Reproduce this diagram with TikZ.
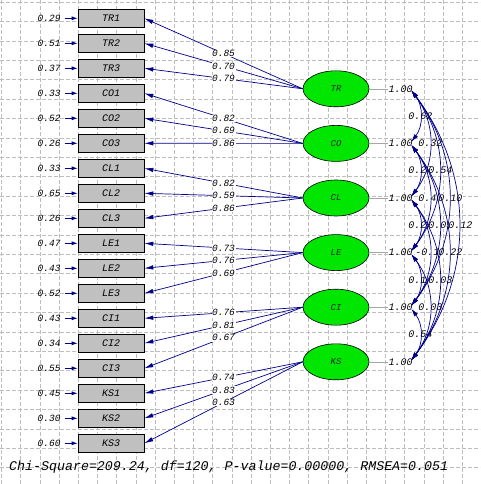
\documentclass[tikz,border=0pt]{standalone}
\usepackage{fontspec}
\setmonofont{Liberation Mono}
\usetikzlibrary{arrows.meta,shapes.geometric,calc}
\definecolor{navy}{RGB}{0,0,140}
\definecolor{lgreen}{RGB}{0,230,0}
\definecolor{boxgray}{RGB}{192,192,192}
\definecolor{gridgray}{RGB}{190,190,190}
\begin{document}
\begin{tikzpicture}[x=1pt,y=-1pt,
  gridline/.style={draw=gridgray, line width=0.5pt, dash pattern=on 4pt off 2pt},
  obs/.style={draw=black, line width=0.6pt, fill=boxgray, minimum width=66pt, minimum height=18pt, inner sep=0pt, font=\fontsize{10}{10}\selectfont\ttfamily\itshape, text=black},
  lat/.style={ellipse, draw=black, line width=0.6pt, fill=lgreen, minimum width=66pt, minimum height=36pt, inner sep=0pt, font=\fontsize{9}{9}\selectfont\ttfamily\itshape, text=black!85},
  load/.style={draw=navy, line width=0.7pt, -{Latex[length=9pt,width=4.5pt]}},
  errarr/.style={draw=navy, line width=0.8pt, -{Latex[length=6pt,width=4pt]}},
  cov/.style={draw=navy, line width=0.7pt, {Latex[length=8pt,width=4.5pt]}-{Latex[length=8pt,width=4.5pt]}},
  numlab/.style={font=\fontsize{9.5}{9.5}\selectfont\ttfamily\itshape, text=black, inner sep=0.6pt},
  vlab/.style={font=\fontsize{10}{10}\selectfont\ttfamily\itshape, text=black, inner sep=0pt},
  covlab/.style={font=\fontsize{10}{10}\selectfont\ttfamily\itshape, text=black, fill=white, inner sep=0.5pt},
  varline/.style={draw=gray!70, line width=0.5pt},
  fitlab/.style={font=\fontsize{13.3}{13.3}\selectfont\ttfamily\itshape, text=black, inner sep=0pt}
]
\useasboundingbox (0,0) rectangle (480,484);
\fill[white] (0,0) rectangle (480,484);
% grid
\foreach \k in {0,...,24} {
  \draw[gridline] ({1.5+19.2*\k},0) -- ({1.5+19.2*\k},484);
  \draw[gridline] (0,{2+19.4*\k}) -- (480,{2+19.4*\k});
}
% observed variables
\foreach \n [count=\i] in {TR1,TR2,TR3,CO1,CO2,CO3,CL1,CL2,CL3,LE1,LE2,LE3,CI1,CI2,CI3,KS1,KS2,KS3}
  \node[obs] (b\i) at (111,{18.3+25*(\i-1)}) {\n};
% latent variables
\foreach \n [count=\i] in {TR,CO,CL,LE,CI,KS}
  \node[lat] (\n) at (336,{88.8+54.6*(\i-1)}) {\n};
% loadings
\foreach \b/\l/\v in {1/TR/0.85,2/TR/0.70,3/TR/0.79,4/CO/0.82,5/CO/0.69,6/CO/0.86,
  7/CL/0.82,8/CL/0.59,9/CL/0.86,10/LE/0.73,11/LE/0.76,12/LE/0.69,
  13/CI/0.76,14/CI/0.81,15/CI/0.67,16/KS/0.74,17/KS/0.83,18/KS/0.63}
  \draw[load] (\l.west) -- node[numlab, fill=white] {\v} (b\b.east);
% error terms
\foreach \v [count=\i] in {0.29,0.51,0.37,0.33,0.52,0.26,0.33,0.65,0.26,0.47,0.43,0.52,0.43,0.34,0.55,0.45,0.30,0.60} {
  \path (b\i.west) ++(-13,0) coordinate (e\i);
  \draw[errarr] (e\i) -- (b\i.west);
  \node[numlab, anchor=east, inner sep=0pt] (t\i) at ([xshift=-4pt]e\i) {\v};
}
% variances
\foreach \n in {TR,CO,CL,LE,CI,KS} {
  \node[vlab, anchor=west] (v\n) at ([xshift=19pt]\n.east) {1.00};
  \draw[varline] (\n.east) -- (v\n.west);
  \coordinate (\n-n) at ([xshift=42pt,yshift=1.5pt]\n.east);
  \coordinate (\n-s) at ([xshift=42pt,yshift=-1.5pt]\n.east);
}
% covariance labels (drawn by span so right ones cover left ones)
\foreach \a/\b/\v/\s in {TR/CO/0.62/1,CO/CL/0.20/1,CL/LE/0.21/1,LE/CI/0.15/1,CI/KS/0.54/1,
  TR/CL/0.32/2,CO/LE/0.40/2,CL/CI/-0.11/2,LE/KS/0.03/2,
  TR/LE/0.54/3,CO/CI/0.05/3,CL/KS/0.03/3,
  TR/CI/0.10/4,CO/KS/0.22/4,
  TR/KS/0.12/5}
  \node[covlab] (cl-\a-\b) at ($(\a-s)!0.5!(\b-n) + ({9+10*(\s-1)},0)$) {\v};
% covariance curves
\foreach \a/\b in {TR/CO,CO/CL,CL/LE,LE/CI,CI/KS,TR/CL,CO/LE,CL/CI,LE/KS,TR/LE,CO/CI,CL/KS,TR/CI,CO/KS,TR/KS}
  \draw[cov] (\a-s) to[bend left=37] (\b-n);
% fit statistics
\node[fitlab, anchor=west] (fit) at (9,467) {Chi-Square=209.24, df=120, P-value=0.00000, RMSEA=0.051};
\end{tikzpicture}
\end{document}
